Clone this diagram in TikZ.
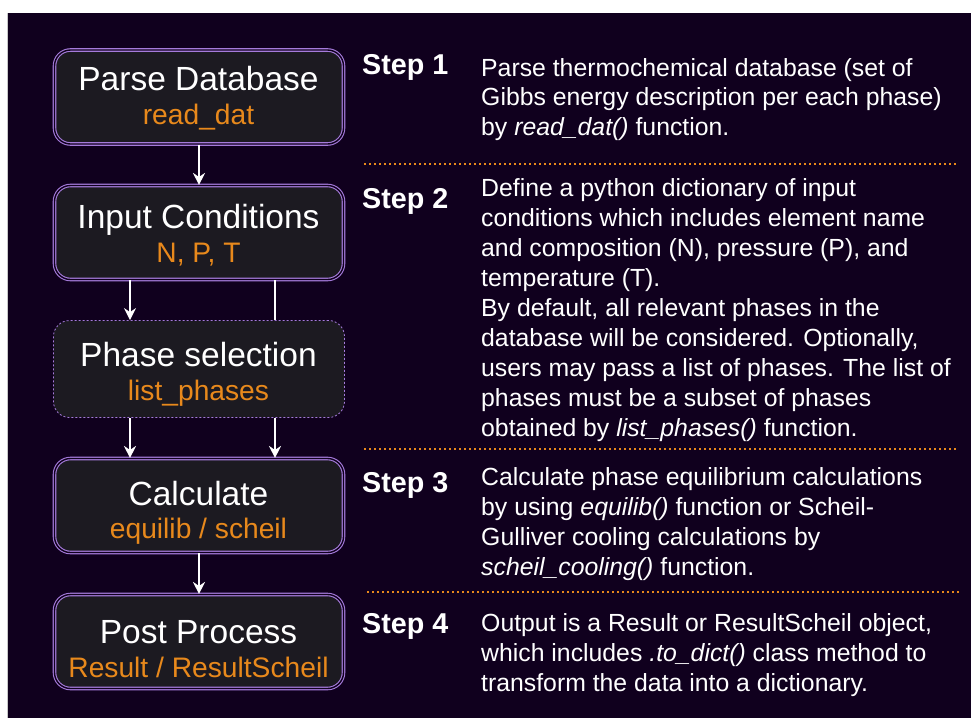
\documentclass[tikz,border=0pt]{standalone}
\usepackage{fontspec}
\setmainfont{Liberation Sans}
\usetikzlibrary{arrows.meta}
\definecolor{bg}{HTML}{10001E}
\definecolor{boxfill}{HTML}{1C1A21}
\definecolor{purp}{HTML}{A57BDB}
\definecolor{orng}{HTML}{E8891C}
\definecolor{frame}{HTML}{C8C8C8}
\begin{document}
\begin{tikzpicture}[x=1pt,y=-1pt,
  box/.style={draw=purp, double=bg, double distance=1.4pt, line width=1.1pt, fill=boxfill,
    rounded corners=16pt, minimum width=289pt, minimum height=94pt, inner sep=0pt},
  optbox/.style={draw=purp, dash pattern=on 2pt off 2pt, line width=0.8pt, fill=boxfill,
    rounded corners=16pt, minimum width=291pt, minimum height=97pt, inner sep=0pt},
  boxtitle/.style={text=white, font=\fontsize{33.5}{40}\selectfont, anchor=base, inner sep=0pt},
  boxsub/.style={text=orng, font=\fontsize{28.2}{34}\selectfont, anchor=base, inner sep=0pt},
  steplbl/.style={text=white, font=\bfseries\fontsize{28.7}{34}\selectfont, anchor=base west, inner sep=0pt},
  desc/.style={text=white, font=\fontsize{24.8}{29.7}\selectfont, anchor=north west, inner sep=0pt, align=left},
  descwide/.style={desc, font=\fontsize{24.8}{29.9}\selectfont},
  sepline/.style={draw=orng, line width=1.6pt, dash pattern=on 1.6pt off 3.4pt},
  flow/.style={draw=white, line width=2pt, -{Stealth[length=12pt,width=12pt,inset=4pt]}},
  flowplain/.style={draw=white, line width=2pt}
]
\useasboundingbox (0,0) rectangle (971,718);
\fill[white] (0,0) rectangle (971,718);
\fill[bg] (8,13) rectangle (971,718);
\draw[frame, line width=1pt] (7.5,13) -- (7.5,718);

% boxes
\node[box] (b1) at (199,97) {};
\node[box] (b2) at (199,232.5) {};
\node[optbox] (b3) at (199,369) {};
\node[box] (b4) at (199,505.5) {};
\node[box] (b5) at (199,641.5) {};

\node[boxtitle] (t1) at (198.5,90) {Parse Database};
\node[boxsub] (s1) at (198.5,124) {read\_dat};
\node[boxtitle] (t2) at (198.5,228) {Input Conditions};
\node[boxsub] (s2) at (198.5,262.7) {N, P, T};
\node[boxtitle] (t3) at (198.5,366.7) {Phase selection};
\node[boxsub] (s3) at (198.5,400) {list\_phases};
\node[boxtitle] (t4) at (198.5,505) {Calculate};
\node[boxsub] (s4) at (198.5,538.5) {equilib / scheil};
\node[boxtitle] (t5) at (198.5,643.3) {Post Process};
\node[boxsub] (s5) at (198.5,677.7) {Result / ResultScheil};

% connectors
\coordinate (colL) at (130,0);
\coordinate (colR) at (275,0);
\draw[flow] (b1.south) -- (b2.north);
\draw[flow] (b2.south -| colL) -- (b3.north -| colL);
\draw[flowplain] (b2.south -| colR) -- (b3.north -| colR);
\draw[flow] (b3.south -| colL) -- (b4.north -| colL);
\draw[flow] (b3.south -| colR) -- (b4.north -| colR);
\draw[flow] (b4.south) -- (b5.north);

% separators
\draw[sepline] (364,164) -- (956,164);
\draw[sepline] (364,449) -- (956,449);
\draw[sepline] (367,592) -- (960,592);

% step labels
\node[steplbl] (st1) at (362,74) {Step 1};
\node[steplbl] (st2) at (362,208) {Step 2};
\node[steplbl] (st3) at (362,492) {Step 3};
\node[steplbl] (st4) at (362,633) {Step 4};

% descriptions
\node[desc] (d1) at (481,55.2) {\strut Parse thermochemical database (set of\\
Gibbs energy description per each phase)\\
by \textit{read\_dat()} function.};
\node[descwide] (d2) at (481,175.7) {\strut Define a python dictionary of input\\
conditions which includes element name\\
and composition (N), pressure (P), and\\
temperature (T).\\
By default, all relevant phases in the\\
database will be considered. Optionally,\\
users may pass a list of phases. The list of\\
phases must be a subset of phases\\
obtained by \textit{list\_phases()} function.};
\node[descwide] (d3) at (481,464.7) {\strut Calculate phase equilibrium calculations\\
by using \textit{equilib()} function or Scheil-\\
Gulliver cooling calculations by\\
\textit{scheil\_cooling()} function.};
\node[desc] (d4) at (481,610.7) {\strut Output is a Result or ResultScheil object,\\
which includes \textit{.to\_dict()} class method to\\
transform the data into a dictionary.};
\end{tikzpicture}
\end{document}
